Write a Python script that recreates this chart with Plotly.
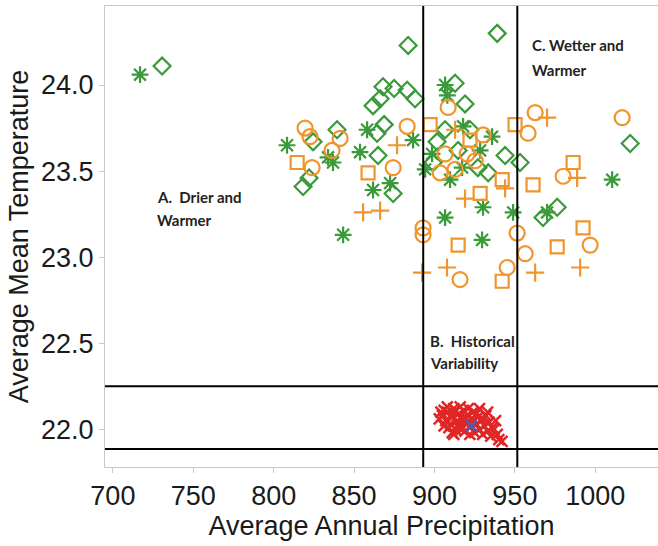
import plotly.graph_objects as go

# ---- data (Average Annual Precipitation, Average Mean Temperature) ----
green_diamond_x = [730.6, 883.6, 939.0, 868.0, 874.9, 861.8, 866.2, 887.9, 883.0, 824.5, 839.4, 818.3,
                   822.0, 864.3, 868.7, 874.3, 906.6, 912.8, 919.0, 943.9, 933.4, 953.2, 967.5, 976.3,
                   1021.7, 901.6, 899.1, 914.7, 864.9, 922.1, 927.0]
green_diamond_y = [24.11, 24.23, 24.30, 23.99, 23.98, 23.88, 23.92, 23.92, 23.97, 23.67, 23.74, 23.41,
                   23.46, 23.72, 23.77, 23.37, 23.74, 24.01, 23.89, 23.59, 23.49, 23.55, 23.23, 23.29,
                   23.66, 23.67, 23.55, 23.62, 23.59, 23.74, 23.52]

green_star_x = [716.9, 808.3, 836.9, 858.1, 853.7, 861.8, 843.2, 872.4, 906.6, 917.8, 935.8, 886.7,
                898.5, 909.7, 917.2, 930.2, 906.6, 948.9, 970.0, 929.6, 1010.5, 833.8, 894.2, 928.4,
                908.0]
green_star_y = [24.06, 23.65, 23.55, 23.74, 23.61, 23.39, 23.13, 23.43, 24.00, 23.76, 23.70, 23.68,
                23.60, 23.45, 23.52, 23.29, 23.23, 23.26, 23.26, 23.10, 23.45, 23.58, 23.51, 23.62,
                23.94]

orange_circle_x = [819.5, 822.6, 841.3, 836.3, 823.9, 874.3, 883.0, 892.9, 892.9, 908.5, 930.2, 906.6,
                   920.3, 903.5, 962.6, 958.2, 1016.7, 980.0, 951.4, 956.4, 996.8, 915.9, 945.2, 925.3,
                   912.8]
orange_circle_y = [23.75, 23.70, 23.69, 23.62, 23.52, 23.52, 23.76, 23.17, 23.13, 23.87, 23.71, 23.60,
                   23.60, 23.49, 23.84, 23.72, 23.81, 23.47, 23.14, 23.02, 23.07, 22.87, 22.94, 23.56,
                   23.51]

orange_square_x = [814.6, 858.7, 897.3, 950.1, 942.1, 961.3, 986.2, 928.4, 914.7, 976.3, 992.4, 942.1,
                   922.1]
orange_square_y = [23.55, 23.49, 23.77, 23.77, 23.45, 23.42, 23.55, 23.37, 23.07, 23.06, 23.17, 22.86,
                   23.68]

orange_plus_x = [855.6, 866.2, 876.7, 970.0, 988.7, 943.9, 919.0, 892.3, 907.8, 962.6, 990.6, 912.8]
orange_plus_y = [23.26, 23.27, 23.65, 23.81, 23.46, 23.40, 23.34, 22.91, 22.94, 22.91, 22.94, 23.74]

red_x = [905, 907, 908, 910, 911, 912, 913, 914, 915, 916, 917, 918, 919, 920, 921, 922, 923, 924,
         925, 926, 927, 928, 929, 930, 931, 932, 933, 934, 935, 936, 909, 906, 912, 940, 938,
         903, 904, 906, 908, 910, 911, 913, 914, 916, 917, 919, 921, 922, 924, 926, 928, 930,
         933, 937, 939, 942]
red_y = [22.08, 22.05, 22.10, 22.03, 22.07, 22.12, 22.00, 22.05, 22.09, 22.02, 22.06, 22.11, 21.99,
         22.04, 22.08, 22.01, 22.06, 22.10, 21.98, 22.03, 22.07, 22.00, 22.05, 21.97, 22.02, 22.08,
         21.99, 22.04, 21.96, 22.01, 22.01, 22.11, 21.97, 21.94, 22.05,
         22.06, 22.10, 22.02, 22.13, 22.08, 21.98, 22.11, 22.02, 22.13, 22.00, 22.07, 22.12, 21.97,
         22.05, 22.09, 22.12, 22.06, 22.10, 22.00, 21.97, 21.93]

blue_x = [923]
blue_y = [22.02]

# reference (quadrant) lines
precip_lines = [893, 951.5]
temp_lines = [22.25, 21.885]

x_ticks = [700, 750, 800, 850, 900, 950, 1000]
y_ticks = [22.0, 22.5, 23.0, 23.5, 24.0]

region_labels = [
    ("A.  Drier and", 726.3, 23.351),
    ("Warmer", 726.3, 23.216),
    ("B.  Historical", 896.2, 22.513),
    ("Variability", 896.2, 22.385),
    ("C. Wetter and", 959.5, 24.232),
    ("Warmer", 959.5, 24.087),
]

GREEN = "#3a9a3a"
ORANGE = "#f0952e"
RED = "#e02626"
BLUE = "#4a5fb0"

fig = go.Figure()


def add(xs, ys, symbol, color, size, lw=2.2):
    fig.add_trace(go.Scatter(
        x=xs, y=ys, mode="markers",
        marker=dict(symbol=symbol, size=size, color=color,
                    line=dict(width=lw, color=color)),
        showlegend=False, hoverinfo="skip"))


add(green_diamond_x, green_diamond_y, "diamond-open", GREEN, 13)
add(green_star_x, green_star_y, "asterisk-open", GREEN, 14)
add(orange_circle_x, orange_circle_y, "circle-open", ORANGE, 15)
add(orange_square_x, orange_square_y, "square-open", ORANGE, 13)
add(orange_plus_x, orange_plus_y, "cross-thin-open", ORANGE, 13)
add(red_x, red_y, "x-thin-open", RED, 11, 2.5)
add(blue_x, blue_y, "x-thin-open", BLUE, 11, 2.5)

shapes = []
for xv in precip_lines:
    shapes.append(dict(type="line", xref="x", yref="paper", x0=xv, x1=xv, y0=0, y1=1,
                       line=dict(color="black", width=2), layer="above"))
for yv in temp_lines:
    shapes.append(dict(type="line", xref="paper", yref="y", x0=0, x1=1, y0=yv, y1=yv,
                       line=dict(color="black", width=2), layer="above"))

annotations = []
for txt, ax, ay in region_labels:
    annotations.append(dict(text=txt, x=ax, y=ay, xref="x", yref="y", showarrow=False,
                            xanchor="left", yanchor="middle",
                            font=dict(family="Lato", size=15, color="#222222", weight="bold")))

AXFONT = dict(family="Liberation Sans, Arial, sans-serif", size=27, color="#1a1a1a")

fig.update_layout(
    width=658, height=546,
    margin=dict(l=105, r=0, t=6, b=79),
    paper_bgcolor="white", plot_bgcolor="white",
    shapes=shapes, annotations=annotations,
    xaxis=dict(range=[695.1, 1039], tickvals=x_ticks, ticktext=[str(v) for v in x_ticks],
               showgrid=False, zeroline=False, showline=True, mirror=True, linecolor="#c8c8c8",
               linewidth=1, ticks="outside", ticklen=5, tickcolor="#c8c8c8", tickfont=AXFONT,
               automargin=False,
               title=dict(text="Average Annual Precipitation", font=AXFONT, standoff=4)),
    yaxis=dict(range=[21.781, 24.459], tickvals=y_ticks, ticktext=[f"{v:.1f}" for v in y_ticks],
               showgrid=False, zeroline=False, showline=True, mirror=False, linecolor="#c8c8c8",
               linewidth=1, ticks="outside", ticklen=5, tickcolor="#c8c8c8", tickfont=AXFONT,
               automargin=False,
               title=dict(text="Average Mean Temperature", font=AXFONT, standoff=4)),
)

fig.write_html("out.html", config={"displayModeBar": False},
               post_script="document.body.style.margin='0';document.body.style.overflow='hidden';")
